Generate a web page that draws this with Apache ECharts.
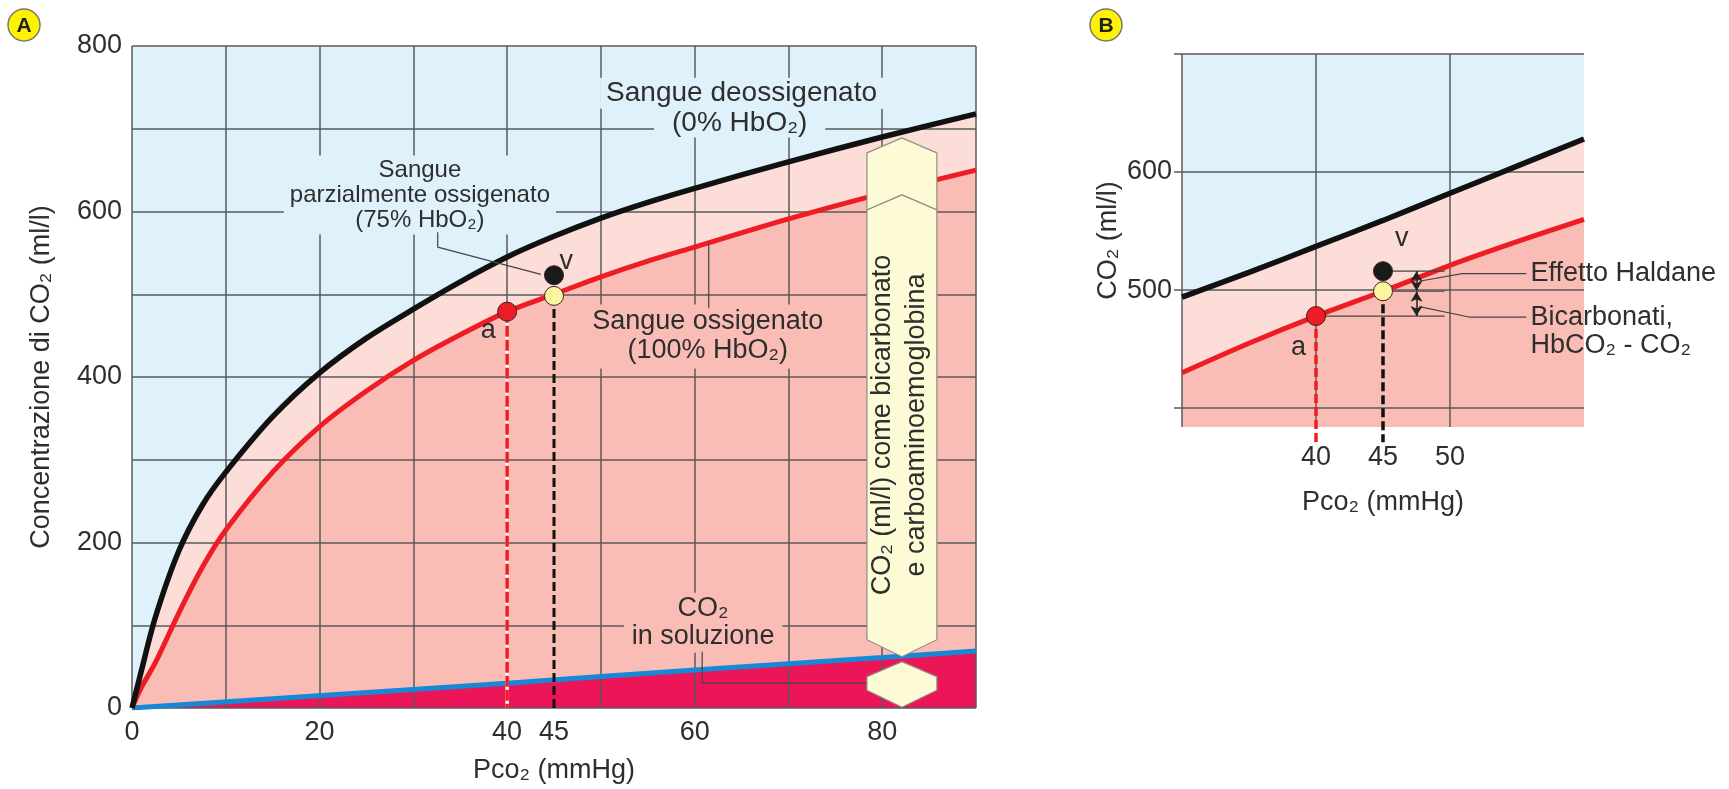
<!DOCTYPE html>
<html>
<head>
<meta charset="utf-8">
<script src="https://cdn.jsdelivr.net/npm/echarts@6/dist/echarts.min.js"></script>
<style>
  html, body { margin: 0; padding: 0; background: #fff; }
  #main { width: 1729px; height: 789px; }
</style>
</head>
<body>
<div id="main"></div>
<script>
// --- Pannello A: CO2 nel sangue (ml/l) in funzione della Pco2 (mmHg)
const pco2A = [0, 1, 2.5, 5, 7.5, 10, 15, 20, 25, 30, 35, 40, 45, 50, 55, 60, 70, 80, 90];
const deossA = [0, 45, 110, 190, 245, 285, 352, 405, 447, 482, 515, 545, 570, 592, 611, 628, 660, 690, 718];
const ossA = [0, 25, 55, 115, 170, 215, 285, 340, 383, 420, 451, 479, 500, 521, 540, 557, 591, 622, 650];
const pco2Sol = [0, 40, 60, 80, 90];
const co2Sol = [0, 30, 46, 61, 69];
const xLabelsA = [0, 20, 40, 45, 60, 80];
const yLabelsA = [0, 200, 400, 600, 800];
const puntoA = [40, 479];     // a, arterioso
const puntoV = [45, 523];     // v, venoso
const puntoVox = [45, 498];   // venoso sulla curva ossigenata

// --- Pannello B: ingrandimento tra 30 e 60 mmHg
const pco2B = [30, 35, 40, 45, 50, 55, 60];
const deossB = [494, 515, 537, 559, 582, 605, 628];
const ossB = [430, 455, 478, 499, 521, 541, 560];
const xLabelsB = [40, 45, 50];
const yLabelsB = [500, 600];
const puntoBa = [40, 478];
const puntoBv = [45, 516];
const puntoBvox = [45, 499];

const FONT = '"Liberation Sans", Arial, sans-serif';
const FS = 27;
const TXT = '#2e2e2e';
const GRIDC = '#5a5a5a';
const AZZURRO = '#dff2fc';
const ROSA = '#fcddd7';
const SALMONE = '#f9bdb5';
const MAGENTA = '#ec1557';
const BLU = '#1888d6';
const ROSSO = '#ee1c24';
const NERO = '#111';
const CREMA = '#fdfbd6';

const pairs = (xs, ys) => xs.map((x, i) => [x, ys[i]]);

function area(g, data, color) {
  return { type: 'line', xAxisIndex: g, yAxisIndex: g, data, smooth: 0.3,
    symbol: 'none', lineStyle: { width: 0 }, areaStyle: { color, opacity: 1, origin: 'start' }, z: 1, silent: true };
}
function curve(g, data, color, width) {
  return { type: 'line', xAxisIndex: g, yAxisIndex: g, data, smooth: 0.3,
    symbol: 'none', lineStyle: { color, width }, z: 3, silent: true };
}
function dashed(g, pt, yEnd, color, dash, width) {
  return { type: 'line', xAxisIndex: g, yAxisIndex: g, data: [pt, [pt[0], yEnd]], symbol: 'none',
    lineStyle: { color, width, type: dash }, z: 4, clip: false, silent: true };
}
function dot(g, pt, color) {
  return { type: 'scatter', xAxisIndex: g, yAxisIndex: g, data: [pt], symbolSize: 19,
    itemStyle: { color, borderColor: '#3a2020', borderWidth: 1, opacity: 1 }, z: 7, silent: true };
}
function leader(g, pts, extra) {
  return Object.assign({ type: 'line', xAxisIndex: g, yAxisIndex: g, data: pts, symbol: 'none',
    lineStyle: { color: '#444', width: 1.2 }, z: 4, clip: false, silent: true }, extra || {});
}
// testi: z basso per quelli con sfondo (sotto le curve), alto per gli altri
function notes(g, list, z) {
  return {
    type: 'custom', xAxisIndex: g, yAxisIndex: g, z, silent: true, clip: false,
    data: list.map(n => [n.x, n.y]),
    renderItem: (params, api) => {
      const n = list[params.dataIndex];
      const p = api.coord([n.x, n.y]);
      return {
        type: 'text', x: p[0], y: p[1], rotation: n.rot || 0,
        style: {
          text: n.text, font: (n.fs || FS) + 'px ' + FONT, fill: TXT,
          align: n.align || 'center', verticalAlign: 'middle',
          backgroundColor: n.bg || 'transparent', padding: n.pad || 0, lineHeight: n.lh || 28
        }
      };
    }
  };
}

// annotazioni (posizioni in coordinate dei dati)
const noteSfondoA = [
  { text: 'Sangue deossigenato', x: 65.0, y: 743, bg: AZZURRO, pad: [2, 6], lh: 27, fs: 28 },
  { text: '(0% HbO₂)', x: 64.8, y: 707, bg: AZZURRO, pad: [1, 18], lh: 27, fs: 28 },
  { text: 'Sangue\nparzialmente ossigenato\n(75% HbO₂)', x: 30.7, y: 620, bg: AZZURRO, pad: [2, 6], lh: 25, fs: 24 },
  { text: 'Sangue ossigenato\n(100% HbO₂)', x: 61.4, y: 449, bg: SALMONE, pad: [3, 8], lh: 29 },
  { text: 'CO₂\nin soluzione', x: 60.9, y: 103, bg: SALMONE, pad: [2, 8], lh: 28 }
];
const noteA = [
  { text: 'v', x: 46.3, y: 540 },
  { text: 'a', x: 38.0, y: 456 },
  { text: 'CO₂ (ml/l) come bicarbonato\ne carboaminoemoglobina', x: 81.9, y: 342, rot: Math.PI / 2, lh: 34 }
];
const noteB = [
  { text: 'v', x: 46.4, y: 544 },
  { text: 'a', x: 38.7, y: 451 },
  { text: 'Effetto Haldane', x: 56.0, y: 514, align: 'left' },
  { text: 'Bicarbonati,', x: 56.0, y: 477, align: 'left' },
  { text: 'HbCO₂ - CO₂', x: 56.0, y: 453, align: 'left' }
];
// colonna esagonale: [x centro, y punta alta, y punta bassa, tipo]
const colonna = [[82.1, 689, 620, 0], [82.1, 620, 62, 1], [82.1, 56, 1, 1]];

const axText = { fontSize: FS, color: TXT, fontFamily: FONT };
const split = { show: true, lineStyle: { color: GRIDC, width: 1.5 } };

const chart = echarts.init(document.getElementById('main'));
chart.setOption({
  animation: false,
  backgroundColor: '#fff',
  grid: [
    { left: 132, top: 46, width: 844, height: 662, show: true, backgroundColor: AZZURRO, borderWidth: 0, outerBoundsMode: 'none' },
    { left: 1182, top: 54, width: 402, height: 373, show: true, backgroundColor: AZZURRO, borderWidth: 0, outerBoundsMode: 'none' }
  ],
  xAxis: [
    { type: 'value', gridIndex: 0, min: 0, max: 90, interval: 10, z: 2,
      axisLine: { show: false }, axisTick: { show: false }, splitLine: split,
      axisLabel: Object.assign({ customValues: xLabelsA, margin: 11 }, axText),
      name: 'Pco₂ (mmHg)', nameLocation: 'middle', nameGap: 49, nameTextStyle: axText },
    { type: 'value', gridIndex: 1, min: 30, max: 60, z: 2,
      axisLine: { show: false }, axisTick: { show: false, customValues: [30, 40, 50] }, splitLine: split,
      axisLabel: Object.assign({ customValues: xLabelsB, margin: 17 }, axText),
      name: 'Pco₂ (mmHg)', nameLocation: 'middle', nameGap: 62, nameTextStyle: axText }
  ],
  yAxis: [
    { type: 'value', gridIndex: 0, min: 0, max: 800, interval: 100, z: 2,
      axisLine: { show: false }, axisTick: { show: false }, splitLine: split,
      axisLabel: Object.assign({ customValues: yLabelsA, margin: 10 }, axText),
      name: 'Concentrazione di CO₂ (ml/l)', nameLocation: 'middle', nameGap: 77, nameTextStyle: axText },
    { type: 'value', gridIndex: 1, min: 384, max: 700, z: 2,
      axisLine: { show: false },
      axisTick: { show: true, length: 8, customValues: [400, 500, 600, 700], lineStyle: { color: GRIDC, width: 1.5 } },
      splitLine: split,
      axisLabel: Object.assign({ customValues: yLabelsB, margin: 10 }, axText),
      name: 'CO₂ (ml/l)', nameLocation: 'middle', nameGap: 60, nameTextStyle: axText }
  ],
  graphic: [
    { type: 'circle', shape: { cx: 24, cy: 25, r: 16 }, style: { fill: '#fff200', stroke: '#777', lineWidth: 1.5 } },
    { type: 'text', x: 24, y: 26, style: { text: 'A', font: 'bold 21px ' + FONT, fill: '#222', align: 'center', verticalAlign: 'middle' } },
    { type: 'circle', shape: { cx: 1106, cy: 25, r: 16 }, style: { fill: '#fff200', stroke: '#777', lineWidth: 1.5 } },
    { type: 'text', x: 1106, y: 26, style: { text: 'B', font: 'bold 21px ' + FONT, fill: '#222', align: 'center', verticalAlign: 'middle' } }
  ],
  series: [
    // pannello A
    area(0, pairs(pco2A, deossA), ROSA),
    area(0, pairs(pco2A, ossA), SALMONE),
    area(0, pairs(pco2Sol, co2Sol), MAGENTA),
    notes(0, noteSfondoA, 2.5),
    curve(0, pairs(pco2Sol, co2Sol), BLU, 5),
    curve(0, pairs(pco2A, ossA), ROSSO, 5),
    curve(0, pairs(pco2A, deossA), NERO, 5.5),
    dashed(0, puntoA, 0, '#fff', 'solid', 3.5),
    dashed(0, puntoA, 0, ROSSO, [11, 3], 3.5),
    dashed(0, puntoVox, 0, NERO, [9, 4], 3),
    leader(0, [[32.6, 575], [32.6, 557], [43.6, 524]]),
    leader(0, [[61.5, 562], [61.5, 483]]),
    leader(0, [[60.8, 68], [60.8, 30], [78.4, 30]]),
    {
      type: 'custom', xAxisIndex: 0, yAxisIndex: 0, z: 5, silent: true,
      data: colonna,
      renderItem: (params, api) => {
        const c = api.coord([api.value(0), api.value(1)]);
        const b = api.coord([api.value(0), api.value(2)]);
        const hw = api.size([7.46, 0])[0] / 2;
        const x0 = c[0] - hw, x1 = c[0] + hw, t = c[1], bb = b[1];
        const pts = api.value(3) === 0
          ? [[x0, t + 15], [c[0], t], [x1, t + 15], [x1, bb + 15], [c[0], bb], [x0, bb + 15]]
          : [[x0, t + 15], [c[0], t], [x1, t + 15], [x1, bb - 17], [c[0], bb], [x0, bb - 17]];
        return { type: 'polygon', shape: { points: pts }, style: { fill: CREMA, stroke: '#8d8d84', lineWidth: 1.2 } };
      }
    },
    notes(0, noteA, 6),
    dot(0, puntoA, ROSSO),
    dot(0, puntoV, '#1a1a1a'),
    dot(0, puntoVox, '#fbf4a0'),

    // pannello B
    area(1, pairs(pco2B, deossB), ROSA),
    area(1, pairs(pco2B, ossB), SALMONE),
    curve(1, pairs(pco2B, ossB), ROSSO, 5),
    curve(1, pairs(pco2B, deossB), NERO, 5.5),
    dashed(1, puntoBa, 371, ROSSO, [9, 4], 3.5),
    dashed(1, puntoBvox, 371, NERO, [9, 4], 3.5),
    leader(1, [[45.7, 516], [49.6, 516]]),
    leader(1, [[45.7, 499], [49.6, 499]]),
    leader(1, [[40.7, 478], [49.6, 478]], {
      markLine: {
        silent: true, symbol: ['arrow', 'arrow'], symbolSize: [9, 10],
        lineStyle: { color: '#222', width: 1.5, type: 'solid' }, label: { show: false },
        data: [
          [{ coord: [47.5, 516] }, { coord: [47.5, 499.5] }],
          [{ coord: [47.5, 498.5] }, { coord: [47.5, 478] }]
        ]
      }
    }),
    leader(1, [[47.7, 507.5], [50.9, 514], [55.7, 514]]),
    leader(1, [[47.7, 486], [51.5, 477], [55.7, 477]]),
    notes(1, noteB, 6),
    dot(1, puntoBa, ROSSO),
    dot(1, puntoBv, '#1a1a1a'),
    dot(1, puntoBvox, '#fbf4a0')
  ]
});
</script>
</body>
</html>
